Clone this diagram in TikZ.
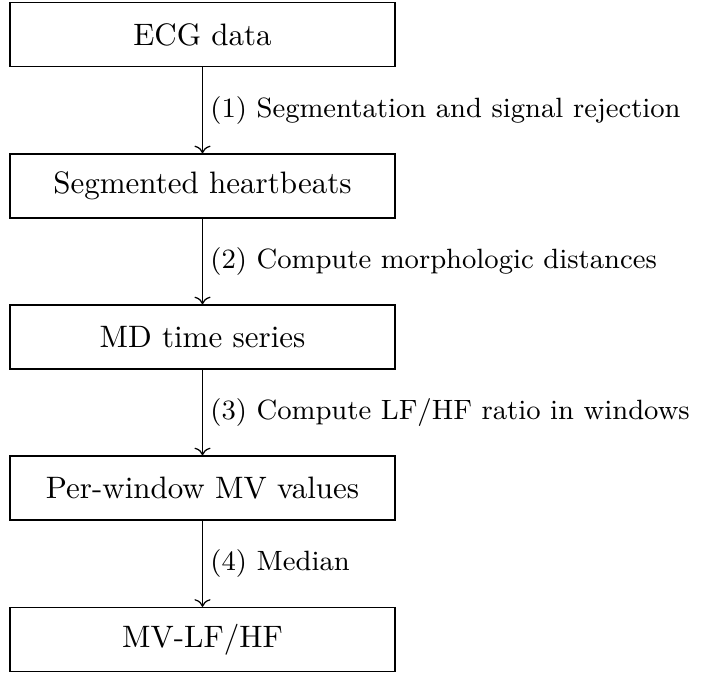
\documentclass[tikz,border=0pt]{standalone}
\usetikzlibrary{arrows.meta}
\begin{document}
\begin{tikzpicture}[x=0.3226pt,y=-0.3226pt,
  stepbox/.style={draw,line width=0.4pt,minimum width=124.2pt,minimum height=20.65pt,inner sep=0pt},
  flow/.style={->,line width=0.4pt},
  lbl/.style={right,font=\small,xshift=-1pt}]
\useasboundingbox (0,0) rectangle (703,673);
\node[stepbox] (n1) at (202.5,34.5) {ECG data};
\node[stepbox] (n2) at (202.5,186) {Segmented heartbeats};
\node[stepbox] (n3) at (202.5,337) {MD time series};
\node[stepbox] (n4) at (202.5,488) {Per-window MV values};
\node[stepbox] (n5) at (202.5,639.5) {MV-LF/HF};
\draw[flow] (n1) -- node[lbl] {(1) Segmentation and signal rejection} (n2);
\draw[flow] (n2) -- node[lbl] {(2) Compute morphologic distances} (n3);
\draw[flow] (n3) -- node[lbl] {(3) Compute LF/HF ratio in windows} (n4);
\draw[flow] (n4) -- node[lbl] {(4) Median} (n5);
\end{tikzpicture}
\end{document}
